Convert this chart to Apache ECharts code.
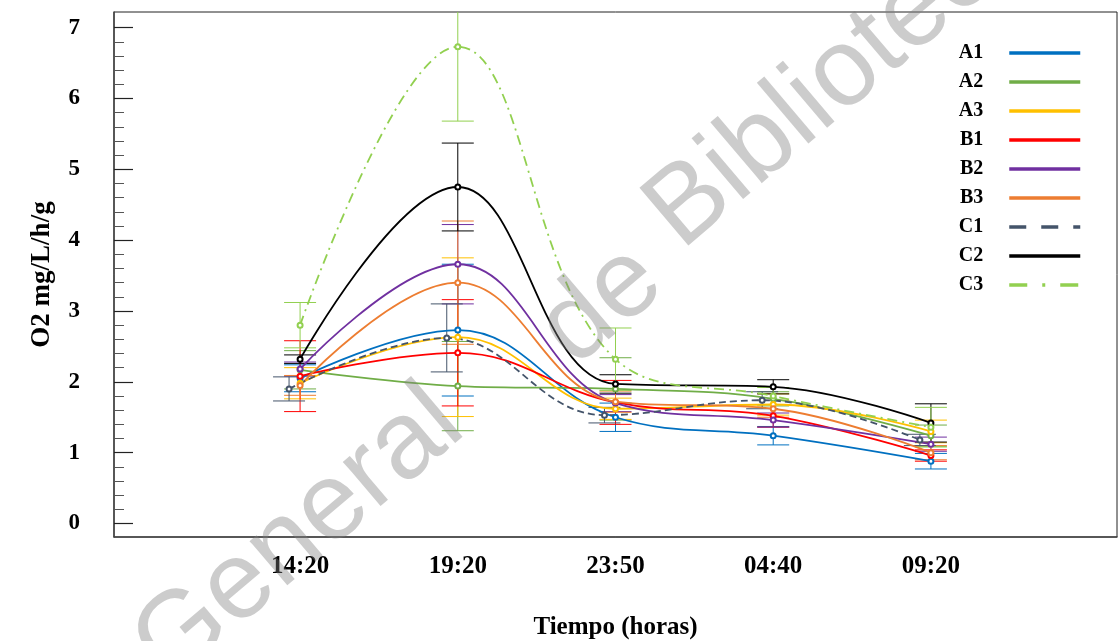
<!DOCTYPE html>
<html>
<head>
<meta charset="utf-8">
<script src="https://cdn.jsdelivr.net/npm/echarts@6/dist/echarts.min.js"></script>
<style>
html, body { margin: 0; padding: 0; background: #fff; }
#main { width: 1120px; height: 641px; }
</style>
</head>
<body>
<div id="main"></div>
<script>
// time of measurement (categories, placed at x = 0..4 on a value axis)
var times = ['14:20', '19:20', '23:50', '04:40', '09:20'];
var xPos = [0, 1, 2, 3, 4];
var xPosC1 = [-0.07, 0.93, 1.93, 2.93, 3.93]; // C1 is drawn a little to the left

var names = ['A1', 'A2', 'A3', 'B1', 'B2', 'B3', 'C1', 'C2', 'C3'];

var A1 = [2.05, 2.73, 1.50, 1.24, 0.88];
var A1err = [0.19, 0.93, 0.20, 0.13, 0.11];
var A2 = [2.17, 1.94, 1.90, 1.76, 1.24];
var A2err = [0.27, 0.63, 0.44, 0.10, 0.15];
var A3 = [1.98, 2.63, 1.62, 1.68, 1.30];
var A3err = [0.22, 1.12, 0.15, 0.15, 0.16];
var B1 = [2.08, 2.41, 1.71, 1.52, 0.96];
var B1err = [0.50, 0.75, 0.31, 0.16, 0.08];
var B2 = [2.18, 3.66, 1.70, 1.46, 1.12];
var B2err = [0.10, 0.56, 0.12, 0.10, 0.10];
var B3 = [1.95, 3.40, 1.72, 1.62, 1.00];
var B3err = [0.14, 0.87, 0.15, 0.12, 0.10];
var C1 = [1.90, 2.62, 1.53, 1.74, 1.18];
var C1err = [0.17, 0.48, 0.11, 0.12, 0.08];
var C2 = [2.32, 4.75, 1.97, 1.93, 1.42];
var C2err = [0.06, 0.62, 0.13, 0.10, 0.27];
var C3 = [2.80, 6.73, 2.32, 1.80, 1.36];
var C3err = [0.32, 1.05, 0.44, 0.12, 0.28];

var yTicks = [0, 1, 2, 3, 4, 5, 6, 7];

var serif = 'Liberation Serif';

var yMinor = [];
for (var t = 0; t < 7; t++) {
    for (var k = 1; k < 5; k++) yMinor.push(+(t + k * 0.2).toFixed(1));
}

var defs = [
    { name: 'A1', vals: A1, errs: A1err, xs: xPos, color: '#0070C0', type: 'solid' },
    { name: 'A2', vals: A2, errs: A2err, xs: xPos, color: '#70AD47', type: 'solid' },
    { name: 'A3', vals: A3, errs: A3err, xs: xPos, color: '#FFC000', type: 'solid' },
    { name: 'B1', vals: B1, errs: B1err, xs: xPos, color: '#FF0000', type: 'solid' },
    { name: 'B2', vals: B2, errs: B2err, xs: xPos, color: '#7030A0', type: 'solid' },
    { name: 'B3', vals: B3, errs: B3err, xs: xPos, color: '#ED7D31', type: 'solid' },
    { name: 'C1', vals: C1, errs: C1err, xs: xPosC1, color: '#44546A', type: [7, 4] },
    { name: 'C2', vals: C2, errs: C2err, xs: xPos, color: '#000000', type: 'solid' },
    { name: 'C3', vals: C3, errs: C3err, xs: xPos, color: '#92D050', type: [10, 5, 2, 5] }
];

function renderErrorBar(params, api) {
    var x = api.value(0);
    var top = api.coord([x, api.value(2)]);
    var bot = api.coord([x, api.value(1)]);
    var w = 16;
    var style = { stroke: api.visual('color'), lineWidth: 1 };
    return {
        type: 'group',
        children: [
            { type: 'line', shape: { x1: top[0], y1: top[1], x2: bot[0], y2: bot[1] }, style: style },
            { type: 'line', shape: { x1: top[0] - w, y1: top[1], x2: top[0] + w, y2: top[1] }, style: style },
            { type: 'line', shape: { x1: bot[0] - w, y1: bot[1], x2: bot[0] + w, y2: bot[1] }, style: style }
        ]
    };
}

var series = [];
defs.forEach(function (d) {
    series.push({
        name: d.name + ' error',
        type: 'custom',
        renderItem: renderErrorBar,
        clip: true,
        itemStyle: { color: d.color },
        data: d.xs.map(function (x, i) { return [x, d.vals[i] - d.errs[i], d.vals[i] + d.errs[i]]; }),
        z: 2
    });
});
defs.forEach(function (d) {
    series.push({
        name: d.name,
        type: 'line',
        smooth: 0.4,
        symbol: 'emptyCircle',
        symbolSize: 5,
        lineStyle: { color: d.color, width: 1.8, type: d.type },
        itemStyle: { color: d.color, borderWidth: 1 },
        data: d.xs.map(function (x, i) { return [x, d.vals[i]]; }),
        z: 3
    });
});

// watermark, one word at a time along a diagonal
var wmRot = 40.3 * Math.PI / 180;
function wmWord(text, x, y) {
    return {
        type: 'text', x: x, y: y, rotation: wmRot, z: 100, silent: true,
        style: {
            text: text,
            font: '110px "Liberation Sans"',
            fill: 'rgba(128,128,128,0.40)',
            align: 'left',
            verticalAlign: 'middle'
        }
    };
}

var chart = echarts.init(document.getElementById('main'));

var option = {
    animation: false,
    backgroundColor: '#fff',
    grid: {
        left: 114, right: 3, top: 12, bottom: 104,
        outerBoundsMode: 'none',
        show: true, borderColor: '#222', borderWidth: 1
    },
    legend: {
        orient: 'vertical',
        right: 38,
        top: 43,
        align: 'right',
        padding: 0,
        itemWidth: 71,
        itemHeight: 4,
        itemGap: 9,
        lineStyle: { width: 3.5 },
        itemStyle: { opacity: 0 },
        textStyle: {
            fontFamily: serif, fontWeight: 'bold', fontSize: 20, color: '#000',
            lineHeight: 20, padding: [0, 21, 0, 0]
        },
        data: names.map(function (n) {
            if (n === 'C1') return { name: n, lineStyle: { type: [17, 15] } };
            if (n === 'C3') return { name: n, lineStyle: { type: [18, 15, 3, 15] } };
            return { name: n };
        })
    },
    xAxis: {
        type: 'value',
        min: -1.18,
        max: 5.18,
        name: 'Tiempo (horas)',
        nameLocation: 'middle',
        nameGap: 78,
        nameTextStyle: { fontFamily: serif, fontWeight: 'bold', fontSize: 25, color: '#000' },
        axisLine: { show: true, onZero: false, lineStyle: { color: '#444', width: 1.5 } },
        axisTick: { show: false },
        splitLine: { show: false },
        axisLabel: {
            customValues: xPos,
            formatter: function (v) { return times[Math.round(v)]; },
            margin: 17,
            fontFamily: serif, fontWeight: 'bold', fontSize: 25, color: '#000'
        }
    },
    yAxis: [{
        type: 'value',
        min: -0.19,
        max: 7.22,
        name: 'O2 mg/L/h/g',
        nameLocation: 'middle',
        nameGap: 58,
        nameTextStyle: { fontFamily: serif, fontWeight: 'bold', fontSize: 27, color: '#000' },
        axisLine: { show: true, onZero: false, lineStyle: { color: '#444', width: 1.5 } },
        axisTick: { show: true, inside: true, length: 19, customValues: yTicks, lineStyle: { color: '#222', width: 1.2 } },
        splitLine: { show: false },
        axisLabel: {
            customValues: yTicks,
            margin: 34,
            fontFamily: serif, fontWeight: 'bold', fontSize: 23, color: '#000'
        }
    }, {
        type: 'value',
        min: -0.19,
        max: 7.22,
        position: 'left',
        axisLine: { show: false, onZero: false },
        axisTick: { show: true, inside: true, length: 10, customValues: yMinor, lineStyle: { color: '#555', width: 1 } },
        splitLine: { show: false },
        axisLabel: { show: false }
    }],
    graphic: [
        wmWord('General', 150, 662),
        wmWord('de', 555, 345),
        wmWord('Biblioteca', 662, 228)
    ],
    series: series
};

chart.setOption(option);
</script>
</body>
</html>
